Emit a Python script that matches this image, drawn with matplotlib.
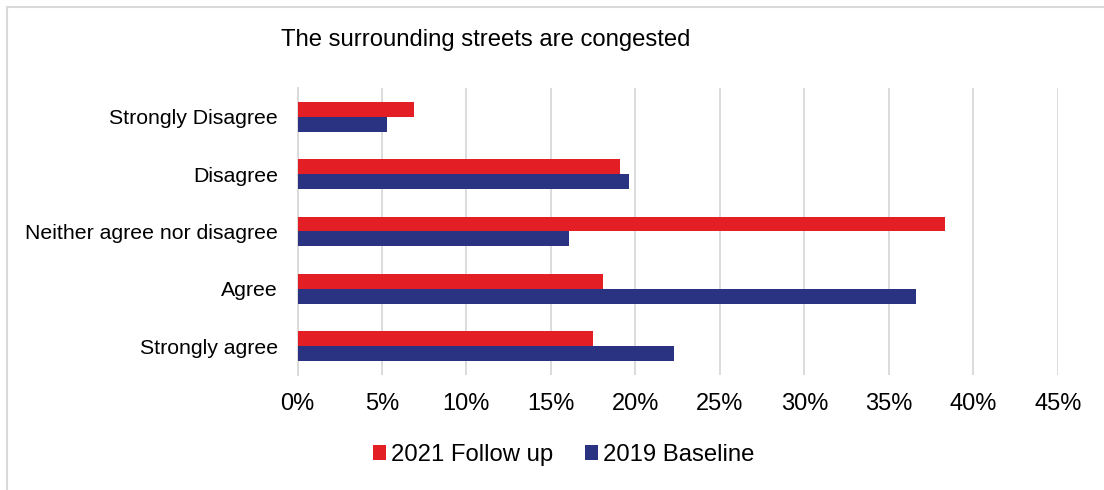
import matplotlib
matplotlib.use("Agg")
import matplotlib.pyplot as plt
from matplotlib.patches import Rectangle
from matplotlib.ticker import FuncFormatter, MultipleLocator

categories = ["Strongly Disagree", "Disagree", "Neither agree nor disagree", "Agree", "Strongly agree"]
follow_up_2021 = [6.9, 19.1, 38.3, 18.1, 17.5]
baseline_2019 = [5.3, 19.6, 16.1, 36.6, 22.3]
series_labels = ["2021 Follow up", "2019 Baseline"]
title = "The surrounding streets are congested"

plt.rcParams['font.family'] = ['Liberation Sans', 'DejaVu Sans']

W, H = 1104, 490
fig = plt.figure(figsize=(W / 100, H / 100), dpi=100)

# outer chart border (light grey)
fig.patches.append(Rectangle((7 / W, -0.1), 1.2, (H - 7) / H + 0.1, transform=fig.transFigure,
                             fill=False, edgecolor="#d9d9d9", linewidth=1.5))

ax = fig.add_axes([297.5 / W, 1 - 375 / H, (1057.7 - 297.5) / W, (375 - 88) / H])

red = "#E31E24"
blue = "#293382"
h = 0.26
ypos = list(range(len(categories)))
ax.barh([y - h / 2 for y in ypos], follow_up_2021, height=h, color=red, label=series_labels[0], zorder=3)
ax.barh([y + h / 2 for y in ypos], baseline_2019, height=h, color=blue, label=series_labels[1], zorder=3)

ax.set_ylim(len(categories) - 0.5, -0.5)
ax.set_xlim(0, 45)
ax.xaxis.set_major_locator(MultipleLocator(5))
ax.xaxis.set_major_formatter(FuncFormatter(lambda v, p: f"{v:.0f}%"))
ax.set_yticks(ypos)
ax.set_yticklabels(categories, fontsize=15.3)
ax.tick_params(axis="x", labelsize=17, length=0, pad=13, colors="black")
ax.tick_params(axis="y", length=0, pad=14)
ax.grid(axis="x", color="#d9d9d9", linewidth=1.3, zorder=0)
for s in ["top", "right", "bottom"]:
    ax.spines[s].set_visible(False)
ax.spines["left"].set_color("#d9d9d9")
ax.spines["left"].set_linewidth(1.3)

fig.text(281 / W, 1 - 40 / H, title, fontsize=17.2, ha="left", va="center")

leg = fig.legend(loc="center", bbox_to_anchor=(563.5 / W, 1 - 455 / H), ncol=2, frameon=False,
                 fontsize=17.2, handlelength=0.55, handleheight=0.55, handletextpad=0.2, columnspacing=1.35)

fig.savefig("out.png", dpi=100, facecolor="white")
